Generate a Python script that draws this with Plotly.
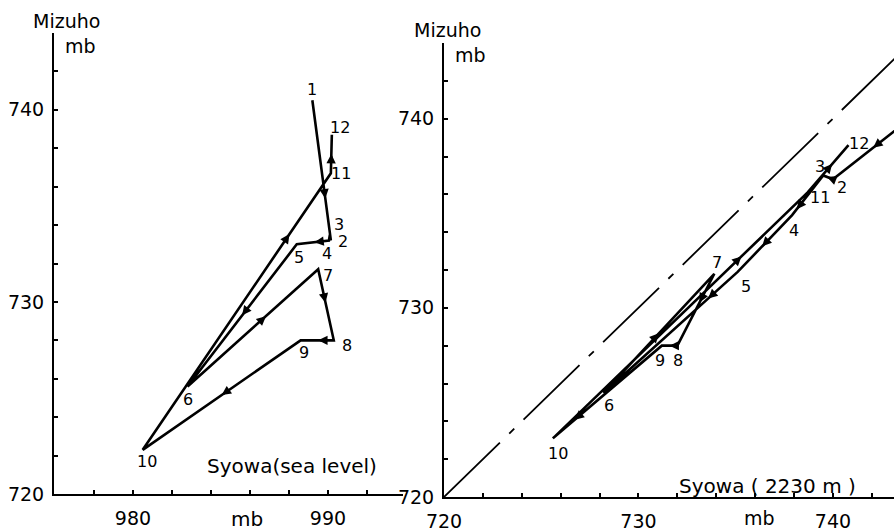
import math
import plotly.graph_objects as go

W, H = 894, 531

# ---------------- data ----------------
point_labels = ["1", "2", "3", "4", "5", "6", "7", "8", "9", "10", "11", "12"]

# left panel: Syowa (sea level) vs Mizuho
left_syowa = [989.2, 990.15, 990.1, 990.05, 988.4, 982.8, 989.5, 990.3, 988.6, 980.5, 990.15, 990.2]
left_mizuho = [740.5, 733.2, 733.5, 733.2, 733.0, 725.6, 731.7, 728.0, 728.0, 722.3, 736.7, 738.7]

# right panel: Syowa (2230 m) vs Mizuho
right_syowa = [744.6, 740.0, 739.5, 737.9, 735.1, 728.2, 733.9, 732.0, 731.2, 725.6, 738.7, 740.8]
right_mizuho = [740.5, 736.8, 737.0, 734.9, 731.9, 725.5, 731.8, 728.0, 728.0, 723.1, 736.1, 738.6]

equal_line = [720, 744]

left_x_ticks = [978, 980, 982, 984, 986, 988, 990, 992]
left_x_text = ["", "980", "", "", "", "", "990", ""]
left_y_ticks = [720, 722, 724, 726, 728, 730, 732, 734, 736, 738, 740, 742]
left_y_text = ["720", "", "", "", "", "730", "", "", "", "", "740", ""]
right_x_ticks = [720, 722, 724, 726, 728, 730, 732, 734, 736, 738, 740, 742]
right_x_text = ["720", "", "", "", "", "730", "", "", "", "", "740", ""]
right_y_ticks = [720, 722, 724, 726, 728, 730, 732, 734, 736, 738, 740, 742]
right_y_text = ["720", "", "", "", "", "730", "", "", "", "", "740", ""]

# ---------------- style / layout ----------------
FONT = "DejaVu Sans"
L_XDOM = [54 / W, 403 / W]
L_YDOM = [(H - 494) / H, (H - 33) / H]
L_XR = [975.95, 993.85]
L_YR = [720, 744]
R_XDOM = [444 / W, 1.0]
R_YDOM = [(H - 497) / H, (H - 43) / H]
R_XR = [720, 743.14]
R_YR = [720, 744]

# label offsets (px, x right / y up)
left_off = [(0, 11), (12, -1), (9, 10), (-2, -13), (2, -13), (0, -13), (10, -6), (13, -5),
            (3, -12), (4, -12), (10, 0), (8, 7)]
right_off = [(0, 0), (9, -8), (-3, 9), (2, -15), (8, -15), (6, -13), (3, 11), (1, -15),
             (-2, -15), (5, -15), (12, -5), (11, 2)]
# arrow position along each segment (None = no arrow)
left_arrow_frac = [0.7, None, None, 0.45, 0.5, 0.6, 0.47, 0.47, 0.5, 0.78, 0.5]
right_arrow_frac = [0.55, 0.6, 0.85, 0.55, 0.22, 0.5, 0.4, 0.5, 0.8, 0.74, 0.6]

fig = go.Figure()

fig.add_trace(go.Scatter(x=left_syowa, y=left_mizuho, mode="lines", xaxis="x", yaxis="y",
                         line=dict(color="black", width=2.6), hoverinfo="skip"))
fig.add_trace(go.Scatter(x=equal_line, y=equal_line, mode="lines", xaxis="x2", yaxis="y2",
                         line=dict(color="black", width=1.8, dash="78px,13px,7px,13px"),
                         hoverinfo="skip"))
fig.add_trace(go.Scatter(x=right_syowa, y=right_mizuho, mode="lines", xaxis="x2", yaxis="y2",
                         line=dict(color="black", width=2.6), hoverinfo="skip"))

annotations = []


def panel_annots(xs, ys, offs, fracs, xref, yref, xdom, ydom, xr, yr):
    sx = (xdom[1] - xdom[0]) * W / (xr[1] - xr[0])
    sy = (ydom[1] - ydom[0]) * H / (yr[1] - yr[0])
    for i, lab in enumerate(point_labels):
        if not (xr[0] <= xs[i] <= xr[1] and yr[0] <= ys[i] <= yr[1]):
            continue
        annotations.append(dict(x=xs[i], y=ys[i], xref=xref, yref=yref, text=lab,
                                showarrow=False, xshift=offs[i][0], yshift=offs[i][1],
                                font=dict(family=FONT, size=16, color="black")))
    for i, f in enumerate(fracs):
        if f is None:
            continue
        x1, y1, x2, y2 = xs[i], ys[i], xs[i + 1], ys[i + 1]
        tx, ty = x1 + f * (x2 - x1), y1 + f * (y2 - y1)
        dxp, dyp = (x2 - x1) * sx, -(y2 - y1) * sy
        n = math.hypot(dxp, dyp)
        ux, uy = dxp / n, dyp / n
        L = 8
        annotations.append(dict(x=tx, y=ty, xref=xref, yref=yref, text="", showarrow=True,
                                ax=-ux * L, ay=-uy * L, arrowhead=2, arrowsize=0.85,
                                arrowwidth=2.2, arrowcolor="black", standoff=0))


panel_annots(left_syowa, left_mizuho, left_off, left_arrow_frac, "x", "y",
             L_XDOM, L_YDOM, L_XR, L_YR)
panel_annots(right_syowa, right_mizuho, right_off, right_arrow_frac, "x2", "y2",
             R_XDOM, R_YDOM, R_XR, R_YR)


def ptxt(text, px, py, size=20):
    annotations.append(dict(x=px / W, y=1 - py / H, xref="paper", yref="paper", text=text,
                            showarrow=False, xanchor="center", yanchor="middle",
                            borderpad=0, font=dict(family=FONT, size=size, color="black")))


ptxt("Mizuho", 66, 21, 19)
ptxt("mb", 80, 46, 19)
ptxt("Syowa(sea level)", 292, 466)
ptxt("mb", 247, 519)
ptxt("Mizuho", 447, 30, 19)
ptxt("mb", 470, 55, 19)
ptxt("Syowa ( 2230 m )", 767, 486)
ptxt("mb", 759, 518, 19)

fig.update_layout(annotations=annotations)

axis_common = dict(showgrid=False, zeroline=False, showline=True, linecolor="black",
                   linewidth=2, ticks="inside", ticklen=4, tickwidth=1.5, tickcolor="black",
                   tickfont=dict(family=FONT, size=19, color="black"), tickmode="array",
                   automargin=False)

fig.update_layout(
    width=W, height=H,
    margin=dict(l=0, r=0, t=0, b=0, autoexpand=False),
    paper_bgcolor="white", plot_bgcolor="white",
    showlegend=False,
    xaxis=dict(domain=L_XDOM, range=L_XR, anchor="y", tickvals=left_x_ticks,
               ticktext=left_x_text, ticklabelstandoff=6, **axis_common),
    yaxis=dict(domain=L_YDOM, range=L_YR, anchor="x", tickvals=left_y_ticks,
               ticktext=left_y_text, ticklabelstandoff=4, **axis_common),
    xaxis2=dict(domain=R_XDOM, range=R_XR, anchor="y2", tickvals=right_x_ticks,
                ticktext=right_x_text, ticklabelstandoff=6, **axis_common),
    yaxis2=dict(domain=R_YDOM, range=R_YR, anchor="x2", tickvals=right_y_ticks,
                ticktext=right_y_text, ticklabelstandoff=4, **axis_common),
)

fig.write_html("out.html")
